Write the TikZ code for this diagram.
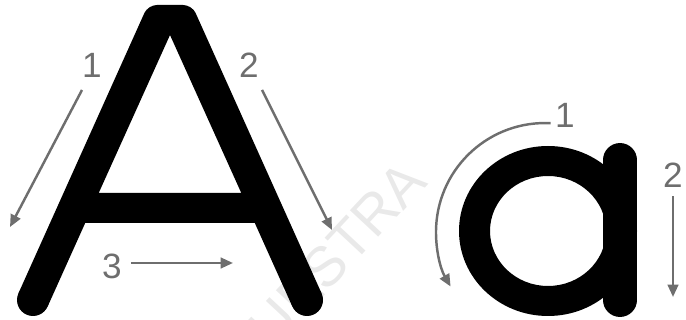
\documentclass[tikz,border=0pt]{standalone}
\usepackage{fontspec}
\setmainfont{Liberation Sans}
\usetikzlibrary{arrows.meta}
\definecolor{ink}{HTML}{000000}
\definecolor{guide}{HTML}{6E6E6E}
\definecolor{wmark}{HTML}{E9E9E9}

\begin{document}
\begin{tikzpicture}[x=0.02cm, y=-0.02cm,
    guidearrow/.style={guide, line width=1.4pt, -{Triangle[length=7pt,width=6pt]}},
    guidenum/.style={guide, inner sep=0pt, font=\fontsize{20}{24}\selectfont}]
    \useasboundingbox (0,0) rectangle (686,320);
    % watermark
    \begin{scope}
      \clip (0,0) rectangle (686,320);
      \node[wmark, rotate=47, font=\fontsize{32}{36}\selectfont] (wm) at (321,271) {MUESTRA};
    \end{scope}
    % capital A
    \fill[ink, even odd rule]
      (47.6,306.6) -- (18.4,293.4) [rounded corners=5pt] -- (148,5) -- (192,5) [sharp corners] -- (321.6,293.4)
      -- (292.4,306.6) -- (254.8,223) -- (85.2,223) -- cycle
      (170,35) -- (98.7,193) -- (241.3,193) -- cycle;
    \fill[ink] (33,300) circle[radius=16];
    \fill[ink] (307,300) circle[radius=16];
    % small a
    \fill[ink, even odd rule] (548,231) ellipse[x radius=89, y radius=85]
      (548,231) ellipse[x radius=58, y radius=55];
    \draw[ink, line width=19.3pt, line cap=round] (620,160) -- (620,300);
    % strokes of A
    \node[guidenum] (A1) at (92,65) {1};
    \node[guidenum] (A2) at (249,65) {2};
    \node[guidenum] (A3) at (112,266) {3};
    \coordinate (A1s) at (82,90);
    \coordinate (A1e) at (10,227);
    \coordinate (A2s) at (262,90);
    \coordinate (A2e) at (332,230);
    \coordinate (A3e) at (233,263);
    \draw[guidearrow] (A1s) -- (A1e);
    \draw[guidearrow] (A2s) -- (A2e);
    \draw[guidearrow] ([xshift=5pt]A3.east |- A3e) -- (A3e);
    % strokes of a
    \node[guidenum] (a1) at (565,115) {1};
    \node[guidenum] (a2) at (673,175) {2};
    \coordinate (a1s) at (550.7,123.2);
    \coordinate (a2e) at (673,297);
    \draw[guidearrow] (a1s) arc[start angle=-87, end angle=-210, radius=109];
    \draw[guidearrow] ([yshift=-5pt]a2.south) -- (a2e);
\end{tikzpicture}
\end{document}
